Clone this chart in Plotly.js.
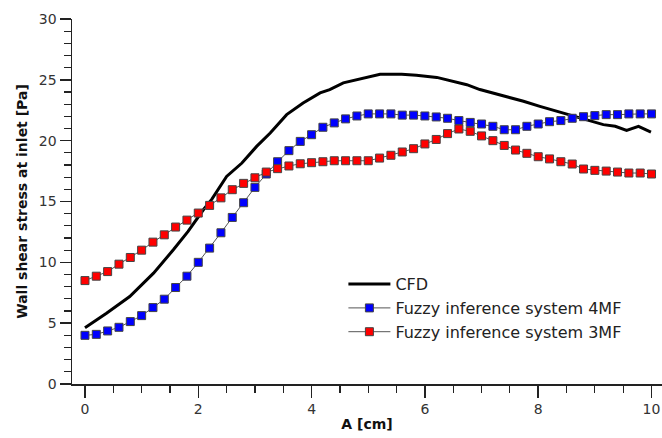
<!DOCTYPE html>
<html><head><meta charset="utf-8">
<script src="https://cdn.plot.ly/plotly-3.0.1.min.js"></script>
<style>html,body{margin:0;padding:0;background:#fff}#g{width:662px;height:438px}</style>
</head><body><div id="g"></div>
<script>
const xFis = [0,0.2,0.4,0.6,0.8,1.0,1.2,1.4,1.6,1.8,2.0,2.2,2.4,2.6,2.8,3.0,3.2,3.4,3.6,3.8,4.0,4.2,4.4,4.6,4.8,5.0,5.2,5.4,5.6,5.8,6.0,6.2,6.4,6.6,6.8,7.0,7.2,7.4,7.6,7.8,8.0,8.2,8.4,8.6,8.8,9.0,9.2,9.4,9.6,9.8,10.0];
const y4MF = [4.0,4.08,4.36,4.66,5.13,5.62,6.28,6.97,7.93,8.86,10.0,11.17,12.43,13.69,14.9,16.16,17.26,18.27,19.18,19.94,20.49,21.1,21.46,21.79,22.03,22.2,22.2,22.2,22.1,22.1,22.03,21.95,21.84,21.65,21.5,21.37,21.18,20.9,20.9,21.18,21.37,21.56,21.65,21.84,21.97,22.06,22.14,22.14,22.2,22.2,22.2];
const y3MF = [8.5,8.86,9.24,9.85,10.4,11.0,11.66,12.26,12.9,13.47,14.05,14.68,15.3,15.97,16.49,16.95,17.42,17.7,17.92,18.1,18.19,18.27,18.35,18.35,18.35,18.35,18.57,18.8,19.07,19.34,19.73,20.1,20.58,20.96,20.77,20.39,20.0,19.61,19.23,18.96,18.68,18.5,18.27,18.08,17.67,17.56,17.5,17.42,17.34,17.34,17.26];
const xCFD = [0,0.38,0.79,1.21,1.56,1.82,2.09,2.24,2.5,2.77,3.03,3.27,3.56,3.85,4.15,4.32,4.56,4.85,5.21,5.59,5.85,6.21,6.44,6.74,6.97,7.15,7.38,7.74,8.03,8.33,8.62,8.91,9.15,9.36,9.56,9.77,9.99];
const yCFD = [4.63,5.82,7.19,9.11,11.03,12.54,14.32,15.2,17.06,18.16,19.53,20.63,22.14,23.1,23.93,24.2,24.75,25.07,25.45,25.45,25.38,25.2,24.94,24.6,24.2,23.98,23.65,23.24,22.82,22.41,22.0,21.59,21.32,21.18,20.85,21.18,20.71];
const names = ["CFD","Fuzzy inference system 4MF","Fuzzy inference system 3MF"];

const FONT = 'DejaVu Sans, Verdana, sans-serif';
const mk = (col)=>({symbol:'square',size:8,color:col,line:{color:'#444',width:1}});
const traces = [
 {x:xCFD,y:yCFD,name:names[0],mode:'lines',line:{color:'#000',width:3}},
 {x:xFis,y:y4MF,name:names[1],mode:'lines+markers',line:{color:'#555',width:1},marker:mk('#0000ff')},
 {x:xFis,y:y3MF,name:names[2],mode:'lines+markers',line:{color:'#555',width:1},marker:mk('#ff0000')}
];
const tf = {family:FONT,size:14,color:'#333'};
const layout = {
 width:662,height:438,margin:{l:72,r:0,t:19,b:54},
 paper_bgcolor:'#fff',plot_bgcolor:'#fff',showlegend:true,
 font:{family:FONT,size:14,color:'#222'},
 xaxis:{range:[-0.229,10.185],showgrid:false,zeroline:false,showline:true,linecolor:'#222',linewidth:1.5,
   ticks:'outside',tickmode:'linear',tick0:0,dtick:2,ticklen:12,tickwidth:1.5,tickcolor:'#222',tickfont:tf,
   minor:{dtick:0.5,tick0:0,ticklen:7,tickwidth:1.2,tickcolor:'#222',ticks:'outside',showgrid:false},
   title:{text:'<b>A [cm]</b>',font:{family:FONT,size:14,color:'#111'},standoff:3}},
 yaxis:{range:[0,30],showgrid:false,zeroline:false,showline:true,linecolor:'#222',linewidth:1.5,
   ticks:'outside',tickmode:'linear',tick0:0,dtick:5,ticklen:11,tickwidth:1.5,tickcolor:'#222',tickfont:tf,
   minor:{dtick:1,tick0:0,ticklen:7,tickwidth:1.2,tickcolor:'#222',ticks:'outside',showgrid:false},
   title:{text:'<b>Wall shear stress at inlet [Pa]</b>',font:{family:FONT,size:14,color:'#111'},standoff:8}},
 legend:{x:0.46,y:0.32,xanchor:'left',yanchor:'top',bgcolor:'rgba(0,0,0,0)',itemwidth:42,font:{family:FONT,size:16,color:'#222'},tracegroupgap:0}
};
Plotly.newPlot('g',traces,layout,{displayModeBar:false,staticPlot:true});
</script></body></html>
